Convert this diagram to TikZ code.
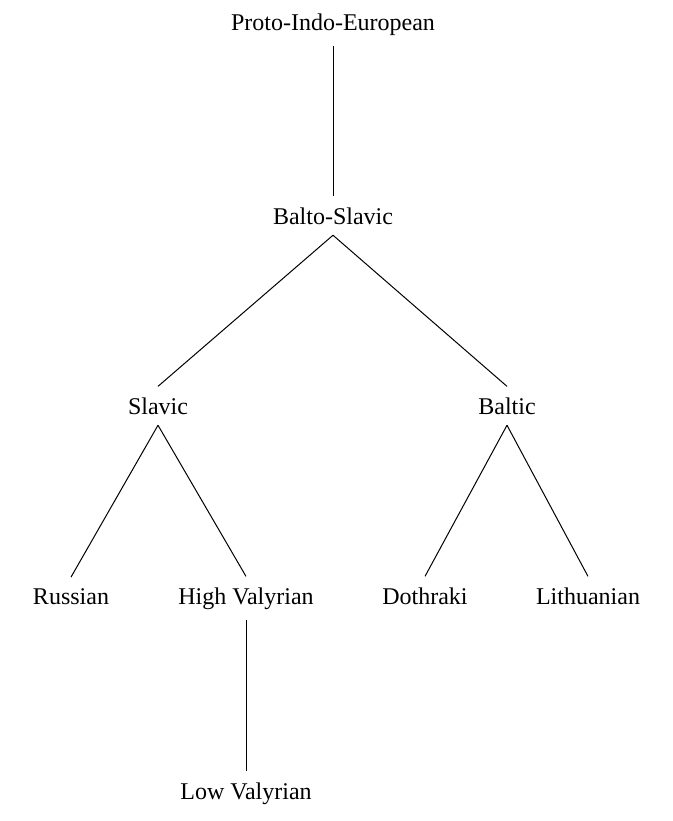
\documentclass[tikz,border=0pt]{standalone}
\usepackage{fontspec}
\setmainfont{Liberation Serif}
\begin{document}
\begin{tikzpicture}[x=0.5pt,y=-0.5pt,
  lang/.style={anchor=base,inner sep=5.5pt,outer sep=0pt,font=\fontsize{12}{14}\selectfont},
  branch/.style={draw=black,line width=0.5pt}]
\useasboundingbox (0,0) rectangle (673,821);
\node[lang] (pie) at (333,30) {Proto-Indo-European};
\node[lang] (bs) at (333,224) {Balto-Slavic};
\node[lang] (sl) at (158,414) {Slavic};
\node[lang] (bt) at (507,414) {Baltic};
\node[lang] (ru) at (71,604) {Russian};
\node[lang] (hv) at (246,604) {High Valyrian};
\node[lang] (do) at (425,604) {Dothraki};
\node[lang] (li) at (588,604) {Lithuanian};
\node[lang] (lv) at (246,799) {Low Valyrian};
\draw[branch] (pie.south) -- (bs.north);
\draw[branch] (bs.south) -- (sl.north);
\draw[branch] (bs.south) -- (bt.north);
\draw[branch] (sl.south) -- (ru.north);
\draw[branch] (sl.south) -- (hv.north);
\draw[branch] (bt.south) -- (do.north);
\draw[branch] (bt.south) -- (li.north);
\draw[branch] (hv.south) -- (lv.north);
\end{tikzpicture}
\end{document}
